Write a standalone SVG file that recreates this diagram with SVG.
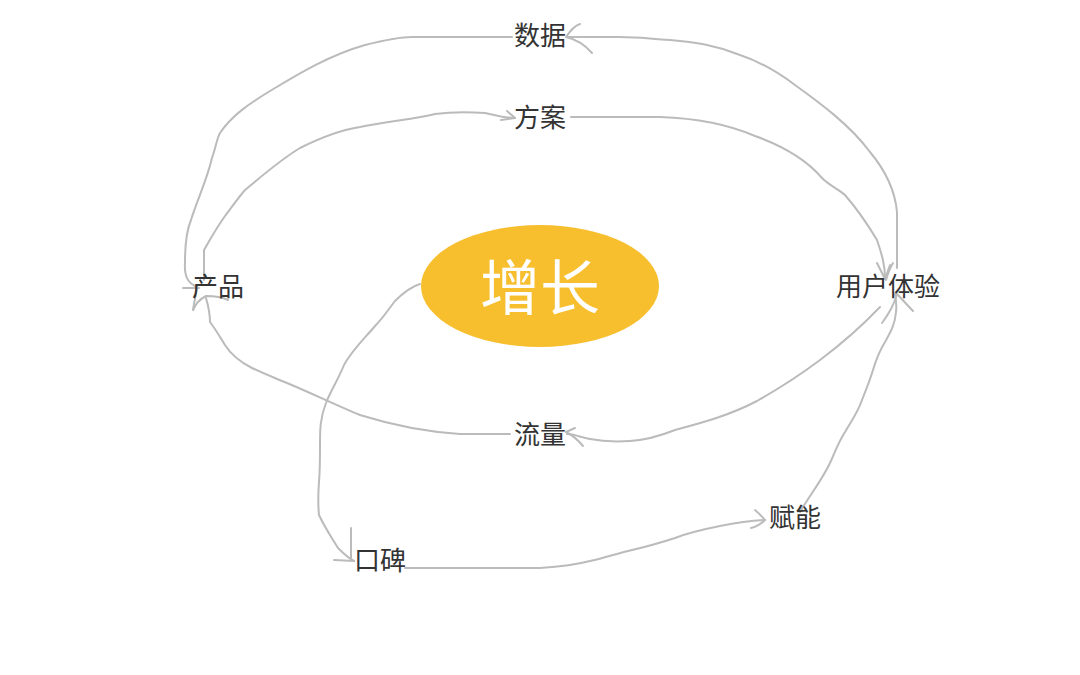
<svg xmlns="http://www.w3.org/2000/svg" width="1080" height="675" viewBox="0 0 1080 675">
<style>
.lbl{font-family:"Noto Sans CJK SC","Noto Sans",sans-serif;font-size:26px;fill:#333;text-anchor:middle;dominant-baseline:central}
.c{fill:none;stroke:#bbbbbb;stroke-width:2;stroke-linecap:round;stroke-linejoin:round}
</style>
<rect width="1080" height="675" fill="#fff"/>
<g id="connectors">
<path class="c" d="M197,287 C188,283 184,277 185,262 C185,245 186,232 191,220 C197,200 207,180 212,158 C216,147 217,138 220,133 C232,115 250,103 275,88 C300,73 330,55 365,45 C385,40 400,37 412,37 L512,37"/>
<path class="c" d="M183,288 L199,288 M197,287 L193,310"/>
<path class="c" d="M897,268 L897,212 C895,190 885,170 870,152 C850,125 820,103 795,85 C775,70 755,60 740,55 C715,45 695,42 670,40 C650,39 640,37 620,37 L568,37"/>
<path class="c" d="M580,24 C574,26 570,31 566,37 C575,39 585,45 592,53"/>
<path class="c" d="M204,280 L204,250 C210,240 215,230 225,216 C232,207 238,198 245,190 C262,176 280,160 300,148 C320,138 340,130 360,127 C390,121 415,119 435,114 C450,112 470,112 485,113 C495,115 503,118 515,118"/>
<path class="c" d="M507,111 L515,118 L501,120"/>
<path class="c" d="M571,117 L660,117 C690,118 725,123 755,136 C780,145 805,158 822,178 C830,186 840,190 845,195 C858,210 868,225 877,240 C882,255 885,265 885,278"/>
<path class="c" d="M877,263 L885,279 L890,265"/>
<path class="c" d="M880,307 C860,328 840,345 820,360 C800,375 780,388 757,401 C730,415 705,422 675,430 C660,436 645,440 630,441 C615,442 605,442 590,439 C580,437 574,434 567,434"/>
<path class="c" d="M575,428 L566,432 C572,435 578,440 583,446"/>
<path class="c" d="M510,434 L460,434 C430,432 395,426 360,415 C335,405 305,390 282,381 C270,376 260,372 252,368 C240,362 230,353 225,345 C220,337 216,330 210,322 C210,312 208,305 206,298"/>
<path class="c" d="M193,310 C196,303 200,299 206,296 C215,296 222,297 228,300"/>
<path class="c" d="M420,284 C410,287 402,294 395,301 C388,310 383,318 375,326 C365,338 352,350 344,365 C338,380 330,392 326,403 C320,418 320,430 320,445 C320,460 320,470 319,482 C318,495 318,505 319,515 C325,528 332,538 338,548 C344,554 348,558 354,561"/>
<path class="c" d="M351,528 L351,560 M334,560 L354,561"/>
<path class="c" d="M405,568 L540,568 C555,567 575,565 590,561 C605,558 615,554 628,551 C645,547 660,543 675,538 C690,532 705,529 720,526 C735,523 745,521 765,520"/>
<path class="c" d="M755,510 C760,514 763,518 765,520 C760,525 756,527 751,528"/>
<path class="c" d="M800,512 C810,495 822,480 830,463 C835,452 838,443 845,432 C852,420 858,412 862,400 C866,390 870,380 873,370 C876,360 880,350 885,342 C890,333 895,325 896,312 C897,305 896,300 895,294"/>
<path class="c" d="M913,311 L897,294 C894,305 888,315 882,323"/>
<path class="c" d="M893,263 C890,268 888,273 886,280"/>
</g>
<g id="n-center">
<ellipse cx="540" cy="286" rx="119" ry="61" fill="#f7be2e"/>
<text x="540" y="283" class="lbl" style="font-size:60px;fill:#fff">增长</text>
</g>
<g id="n-data"><text x="540" y="33" class="lbl">数据</text></g>
<g id="n-plan"><text x="540" y="115" class="lbl">方案</text></g>
<g id="n-product"><text x="218" y="284" class="lbl">产品</text></g>
<g id="n-ux"><text x="888" y="284" class="lbl">用户体验</text></g>
<g id="n-traffic"><text x="540" y="432" class="lbl">流量</text></g>
<g id="n-wom"><text x="380" y="558" class="lbl">口碑</text></g>
<g id="n-enable"><text x="795" y="515" class="lbl">赋能</text></g>
</svg>
